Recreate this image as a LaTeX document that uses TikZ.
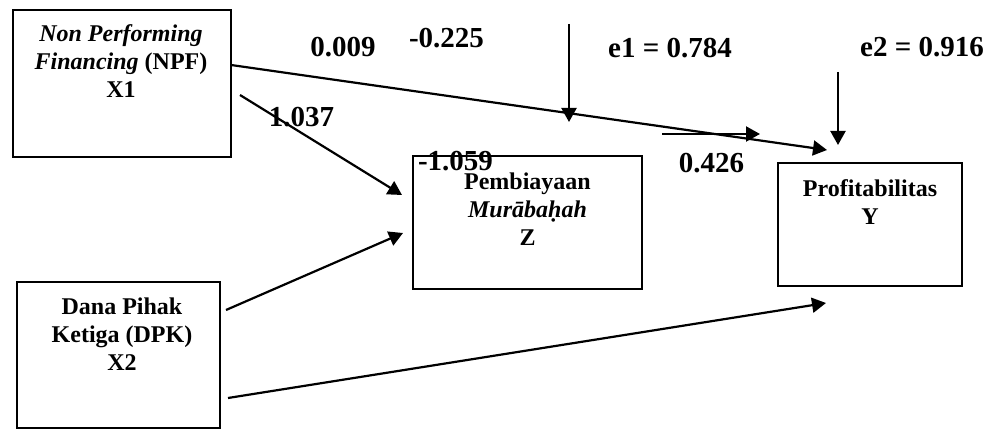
\documentclass[tikz,border=0pt]{standalone}
\usepackage{fontspec}
\setmainfont{Liberation Serif}
\usetikzlibrary{arrows.meta}
\newcommand{\mylines}[1]{\begin{tabular}[t]{@{}c@{}}#1\end{tabular}}
\tikzset{
  box/.style={draw, line width=1.8pt, inner sep=0pt},
  boxtext/.style={font=\fontsize{24}{28}\selectfont\bfseries, inner sep=0pt, anchor=base},
  lbl/.style={font=\fontsize{29}{34}\selectfont\bfseries, inner sep=0pt, anchor=base},
  arr/.style={line width=2.2pt, -{Triangle[length=14pt,width=15pt]}},
}
\begin{document}
\begin{tikzpicture}[x=1pt,y=-1pt]
\useasboundingbox (0,0) rectangle (988,430);
% boxes
\node[box, minimum width=218pt, minimum height=147pt] (x1) at (122,83.5) {};
\node[box, minimum width=229pt, minimum height=133pt] (z) at (527.5,222.5) {};
\node[box, minimum width=184pt, minimum height=123pt] (y) at (870,224.5) {};
\node[box, minimum width=203pt, minimum height=146pt] (x2) at (118.5,355) {};
% box texts
\node[boxtext] (tx1) at (121,42) {\mylines{\textit{Non Performing}\\ \textit{Financing} (NPF)\\ X1}};
\node[boxtext] (tz) at (527.5,190) {\mylines{Pembiayaan\\ \textit{Murābaḥah}\\ Z}};
\node[boxtext] (ty) at (870,197) {\mylines{Profitabilitas\\ Y}};
\node[boxtext] (tx2) at (122,315) {\mylines{Dana Pihak\\ Ketiga (DPK)\\ X2}};
% connector endpoints
\coordinate (x1a) at (231,65);
\coordinate (x1b) at (240,95);
\coordinate (x2a) at (226,310);
\coordinate (x2b) at (228,398);
\coordinate (za) at (402,195);
\coordinate (zb) at (403,233);
\coordinate (ya) at (827,150);
\coordinate (yb) at (826,303);
\coordinate (e1s) at (569,24);
\coordinate (e1t) at (569,122);
\coordinate (e2s) at (838,72);
\coordinate (e2t) at (838,145);
\coordinate (hs) at (662,134);
\coordinate (ht) at (760,134);
% connectors
\draw[arr] (x1a) -- (ya);
\draw[arr] (x1b) -- (za);
\draw[arr] (x2a) -- (zb);
\draw[arr] (x2b) -- (yb);
\draw[arr] (e1s) -- (e1t);
\draw[arr] (e2s) -- (e2t);
\draw[arr] (hs) -- (ht);
% labels
\node[lbl] (l1) at (343,57) {0.009};
\node[lbl] (l2) at (446.5,48) {-0.225};
\node[lbl] (l3) at (670,58) {e1 = 0.784};
\node[lbl] (l4) at (922,57) {e2 = 0.916};
\node[lbl] (l5) at (301.5,127) {1.037};
\node[lbl] (l6) at (455.5,171) {-1.059};
\node[lbl] (l7) at (711.5,173) {0.426};
\end{tikzpicture}
\end{document}
